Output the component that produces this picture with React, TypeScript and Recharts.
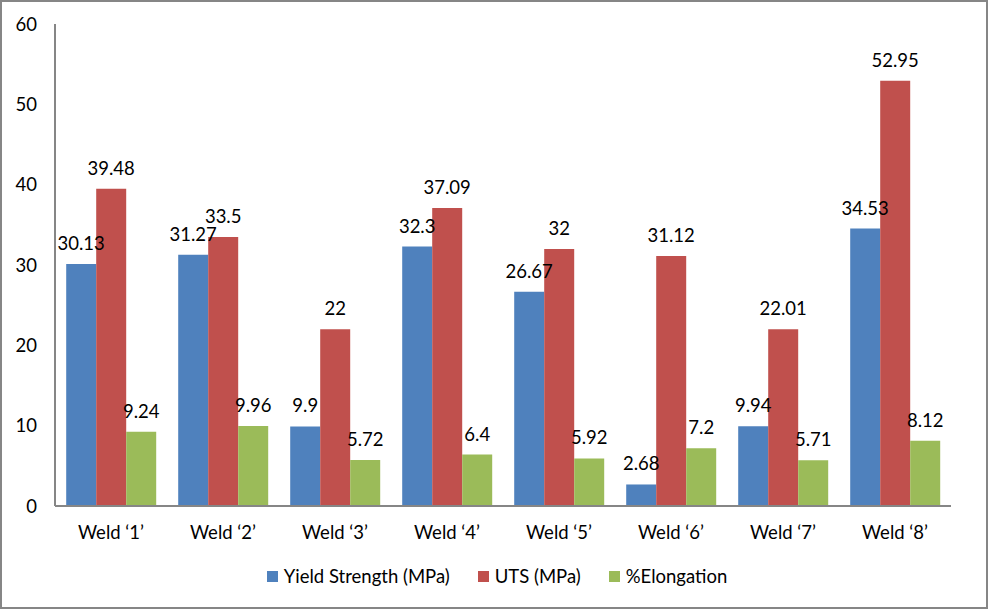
import React from 'react';
import { BarChart, Bar, XAxis, YAxis, Legend, LabelList } from 'recharts';

const categories = ['Weld \u20181\u2019', 'Weld \u20182\u2019', 'Weld \u20183\u2019', 'Weld \u20184\u2019', 'Weld \u20185\u2019', 'Weld \u20186\u2019', 'Weld \u20187\u2019', 'Weld \u20188\u2019'];
const yieldStrength = [30.13, 31.27, 9.9, 32.3, 26.67, 2.68, 9.94, 34.53];
const uts = [39.48, 33.5, 22, 37.09, 32, 31.12, 22.01, 52.95];
const elongation = [9.24, 9.96, 5.72, 6.4, 5.92, 7.2, 5.71, 8.12];
const yTicks = [0, 10, 20, 30, 40, 50, 60];

const seriesInfo = [
  { key: 'ys', name: 'Yield Strength (MPa)', color: '#4F81BD' },
  { key: 'uts', name: 'UTS (MPa)', color: '#C0504D' },
  { key: 'el', name: '%Elongation', color: '#9BBB59' },
];

const data = categories.map((c, i) => ({ name: c, ys: yieldStrength[i], uts: uts[i], el: elongation[i] }));

const FONT = 'Lato, "Noto Sans", sans-serif';
const FS = 18.5;

const LegendContent = () => (
  <div style={{ height: 30, display: 'flex', justifyContent: 'center', alignItems: 'center', fontFamily: FONT, fontSize: FS, color: '#000', paddingLeft: 6 }}>
    {seriesInfo.map((s, i) => (
      <div key={s.key} style={{ display: 'flex', alignItems: 'center', marginLeft: i === 0 ? 0 : 28 }}>
        <span style={{ display: 'inline-block', width: 11, height: 11, background: s.color, marginRight: 6 }} />
        <span>{s.name}</span>
      </div>
    ))}
  </div>
);

export default function App() {
  return (
    <div style={{ position: 'absolute', left: 0, top: 0, width: 988, height: 609, background: '#fff' }}>
      <div style={{ position: 'absolute', left: 0, top: 0, width: 988, height: 609, boxSizing: 'border-box', border: '2px solid #868686', pointerEvents: 'none', zIndex: 2 }} />
      <BarChart width={988} height={609} data={data} margin={{ top: 24, right: 37, left: 0, bottom: 33 }} barCategoryGap="10%" barGap={0}>
        <YAxis
          width={55}
          domain={[0, 60]}
          ticks={yTicks}
          tickLine={false}
          tickSize={6}
          tickMargin={12}
          axisLine={{ stroke: '#868686', strokeWidth: 2 }}
          tick={{ fill: '#000', fontSize: FS, fontFamily: FONT }}
          interval={0}
        />
        <XAxis
          dataKey="name"
          height={40}
          tickLine={false}
          tickSize={6}
          tickMargin={14}
          axisLine={{ stroke: '#868686', strokeWidth: 2 }}
          tick={{ fill: '#000', fontSize: FS, fontFamily: FONT }}
          interval={0}
        />
        <Legend verticalAlign="bottom" content={<LegendContent />} wrapperStyle={{ left: 0, width: 988, top: 561, bottom: 'auto' }} />
        {seriesInfo.map((s) => (
          <Bar key={s.key} dataKey={s.key} name={s.name} fill={s.color} isAnimationActive={false}>
            <LabelList dataKey={s.key} position="top" offset={14} fill="#000" fontSize={FS} fontFamily={FONT} />
          </Bar>
        ))}
      </BarChart>
    </div>
  );
}
